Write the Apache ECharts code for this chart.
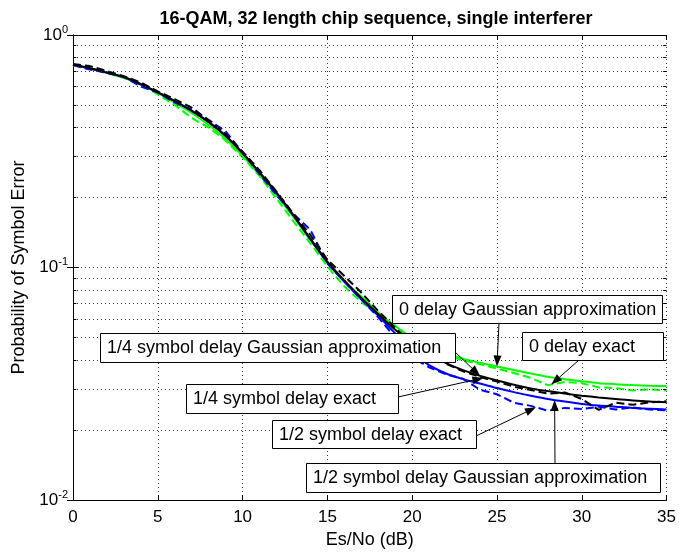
<!DOCTYPE html>
<html>
<head>
<meta charset="utf-8">
<script src="https://cdn.jsdelivr.net/npm/echarts@6/dist/echarts.min.js"></script>
<style>
  html, body { margin: 0; padding: 0; background: #fff; }
  #chart { width: 679px; height: 554px; }
</style>
</head>
<body>
<div id="chart"></div>
<script>
// Es/No grid in dB
const snrDb = [0,1,2,3,4,5,6,7,8,9,10,11,12,13,14,15,16,17,18,19,20,21,22,23,24,25,26,27,28,29,30,31,32,33,34,35];

// Symbol error probability, 0 delay
const gaussZero = [0.745,0.72,0.69,0.655,0.61,0.562,0.512,0.462,0.41,0.357,0.302,0.25,0.205,0.165,0.131,0.105,0.087,0.075,0.064,0.056,0.050,0.0458,0.0428,0.0405,0.0389,0.0375,0.0362,0.0350,0.0339,0.0331,0.0324,0.0318,0.0315,0.0312,0.0310,0.0309];
const exactZero = [0.74,0.722,0.685,0.655,0.612,0.555,0.50,0.44,0.40,0.352,0.298,0.248,0.198,0.158,0.127,0.101,0.083,0.071,0.063,0.056,0.049,0.0452,0.042,0.0398,0.0384,0.0368,0.0352,0.0335,0.0312,0.0322,0.0318,0.0305,0.0303,0.0296,0.0299,0.0296];

// Symbol error probability, 1/4 symbol delay
const gaussQuarter = [0.745,0.72,0.69,0.66,0.615,0.567,0.52,0.472,0.422,0.368,0.31,0.256,0.21,0.168,0.133,0.106,0.088,0.074,0.063,0.054,0.0475,0.0425,0.0388,0.0362,0.0342,0.0327,0.0313,0.0302,0.0294,0.0287,0.0281,0.0276,0.0272,0.0268,0.0265,0.0263];
const exactQuarter = [0.75,0.735,0.70,0.665,0.625,0.572,0.53,0.487,0.43,0.375,0.315,0.262,0.212,0.17,0.138,0.108,0.092,0.078,0.065,0.055,0.047,0.042,0.0385,0.0358,0.0338,0.0323,0.0307,0.0297,0.0287,0.0290,0.0272,0.0244,0.0262,0.0257,0.0263,0.0266];

// Symbol error probability, 1/2 symbol delay
const gaussHalf = [0.745,0.718,0.688,0.658,0.613,0.566,0.52,0.473,0.423,0.369,0.311,0.256,0.209,0.167,0.132,0.105,0.087,0.073,0.062,0.052,0.0435,0.0380,0.0350,0.0331,0.0317,0.0303,0.0291,0.0281,0.0272,0.0265,0.0259,0.0255,0.0252,0.0249,0.0247,0.0245];
const exactHalf = [0.742,0.71,0.688,0.662,0.60,0.565,0.512,0.478,0.432,0.385,0.312,0.252,0.205,0.17,0.145,0.104,0.087,0.073,0.061,0.050,0.041,0.0372,0.0347,0.0332,0.0298,0.0285,0.0262,0.0254,0.0242,0.0249,0.0246,0.0252,0.0245,0.0250,0.0245,0.0243];

// Axis ticks
const xTicks = [0,5,10,15,20,25,30,35];
const yDecades = [0.01, 0.1, 1];
const yMinor = [0.02,0.03,0.04,0.05,0.06,0.07,0.08,0.09,0.2,0.3,0.4,0.5,0.6,0.7,0.8,0.9];

// Callouts: label text, the curve it points to and the Es/No where the arrow lands
const calloutText = ['0 delay Gaussian approximation','0 delay exact','1/4 symbol delay Gaussian approximation','1/4 symbol delay exact','1/2 symbol delay exact','1/2 symbol delay Gaussian approximation'];
const calloutCurve = ['gaussZero','exactZero','gaussQuarter','exactQuarter','exactHalf','gaussHalf'];
const calloutAt = [25.0, 28.2, 24.0, 24.2, 27.3, 28.4];

// ---- presentation ----
const FONT = '"Liberation Sans", Arial, Helvetica, sans-serif';
const curves = {
  gaussZero:    { values: gaussZero,    color: '#00ff00', dashed: false },
  exactZero:    { values: exactZero,    color: '#00ff00', dashed: true },
  gaussQuarter: { values: gaussQuarter, color: '#000000', dashed: false },
  exactQuarter: { values: exactQuarter, color: '#000000', dashed: true },
  gaussHalf:    { values: gaussHalf,    color: '#0000ff', dashed: false },
  exactHalf:    { values: exactHalf,    color: '#0000ff', dashed: true }
};
const drawOrder = ['exactZero','gaussZero','exactHalf','gaussHalf','exactQuarter','gaussQuarter'];

// box [left, top, width, height] and arrow tail, in pixels
const calloutBox = [
  { box: [392, 295, 270, 28], tail: [499, 323] },
  { box: [522, 332, 141, 28], tail: [579, 360] },
  { box: [100, 333, 355, 29], tail: [455, 352] },
  { box: [186, 384, 212, 29], tail: [398, 397] },
  { box: [272, 420, 204, 28], tail: [476, 436] },
  { box: [306, 463, 354, 29], tail: [555, 463] }
];

const GRID = { left: 73, top: 35, width: 596, height: 470 };
const dotted = { color: '#3a3a3a', type: [1, 3], width: 1 };

function pairs(values) { return snrDb.map((x, i) => [x, values[i]]); }

function valueAt(values, x) {
  for (let i = 0; i < snrDb.length - 1; i++) {
    if (x >= snrDb[i] && x <= snrDb[i + 1]) {
      const t = (x - snrDb[i]) / (snrDb[i + 1] - snrDb[i]);
      const a = Math.log10(values[i]), b = Math.log10(values[i + 1]);
      return Math.pow(10, a + t * (b - a));
    }
  }
  return values[values.length - 1];
}

function decadeLabel(v) {
  const e = Math.round(Math.log10(v));
  return '{b|10}{e|' + e + '}';
}

const series = drawOrder.map(key => {
  const c = curves[key];
  return {
    name: key,
    type: 'line',
    data: pairs(c.values),
    showSymbol: false,
    smooth: c.dashed ? false : 0.3,
    clip: true,
    lineStyle: { color: c.color, width: 2, type: c.dashed ? [8, 4] : 'solid' },
    z: 3
  };
});

// minor dotted grid for each decade
series.push({
  type: 'line',
  data: [],
  silent: true,
  markLine: {
    silent: true,
    symbol: 'none',
    label: { show: false },
    animation: false,
    lineStyle: dotted,
    data: yMinor.map(v => ({ yAxis: v }))
  },
  z: 1
});
// minor tick marks on left and right
series.push({
  type: 'line',
  data: [],
  silent: true,
  markLine: {
    silent: true,
    symbol: 'none',
    label: { show: false },
    animation: false,
    lineStyle: { color: '#000', type: 'solid', width: 1 },
    data: yMinor.flatMap(v => [
      [{ coord: [0, v] }, { coord: [0.2, v] }],
      [{ coord: [34.8, v] }, { coord: [35, v] }]
    ])
  },
  z: 2
});

const axisLineStyle = { color: '#000', width: 1 };

const option = {
  animation: false,
  backgroundColor: '#fff',
  title: {
    text: '16-QAM, 32 length chip sequence, single interferer',
    left: GRID.left + GRID.width / 2,
    top: 5,
    textAlign: 'center',
    textStyle: { fontFamily: FONT, fontSize: 18, fontWeight: 'bold', color: '#000' }
  },
  grid: GRID,
  xAxis: [
    {
      type: 'value', min: xTicks[0], max: xTicks[xTicks.length - 1], interval: 5,
      position: 'bottom',
      name: 'Es/No (dB)', nameLocation: 'middle', nameGap: 31,
      nameTextStyle: { fontFamily: FONT, fontSize: 18, color: '#000' },
      axisLine: { show: true, lineStyle: axisLineStyle },
      axisTick: { show: true, inside: true, length: 5, lineStyle: axisLineStyle },
      axisLabel: { fontFamily: FONT, fontSize: 17, color: '#000', margin: 9 },
      splitLine: { show: true, lineStyle: dotted }
    },
    {
      type: 'value', min: xTicks[0], max: xTicks[xTicks.length - 1], interval: 5,
      position: 'top',
      axisLine: { show: true, lineStyle: axisLineStyle },
      axisTick: { show: true, inside: true, length: 5, lineStyle: axisLineStyle },
      axisLabel: { show: false },
      splitLine: { show: false }
    }
  ],
  yAxis: [
    {
      type: 'log', logBase: 10, min: yDecades[0], max: yDecades[yDecades.length - 1],
      position: 'left',
      name: 'Probability of Symbol Error', nameLocation: 'middle', nameGap: 36,
      nameTextStyle: { fontFamily: FONT, fontSize: 18, color: '#000' },
      axisLine: { show: true, lineStyle: axisLineStyle },
      axisTick: { show: true, inside: true, length: 6, lineStyle: axisLineStyle },
      axisLabel: {
        margin: 5,
        formatter: decadeLabel,
        rich: {
          b: { fontFamily: FONT, fontSize: 17, color: '#000' },
          e: { fontFamily: FONT, fontSize: 11, color: '#000', padding: [0, 0, 11, 0] }
        }
      },
      splitLine: { show: true, lineStyle: dotted }
    },
    {
      type: 'log', logBase: 10, min: yDecades[0], max: yDecades[yDecades.length - 1],
      position: 'right',
      axisLine: { show: true, lineStyle: axisLineStyle },
      axisTick: { show: true, inside: true, length: 6, lineStyle: axisLineStyle },
      axisLabel: { show: false },
      splitLine: { show: false }
    }
  ],
  series: series
};

const chart = echarts.init(document.getElementById('chart'), null, { renderer: 'canvas' });
chart.setOption(option);

// callout boxes with arrows onto the curves
function buildCallouts() {
  const els = [];
  calloutText.forEach((text, i) => {
    const lay = calloutBox[i];
    const x = calloutAt[i];
    const tip = chart.convertToPixel({ gridIndex: 0 }, [x, valueAt(curves[calloutCurve[i]].values, x)]);
    const tail = lay.tail;
    const ang = Math.atan2(tip[1] - tail[1], tip[0] - tail[0]);
    const len = 11, hw = 4;
    const bx = tip[0] - len * Math.cos(ang), by = tip[1] - len * Math.sin(ang);
    els.push({
      type: 'line', z: 20, silent: true,
      shape: { x1: tail[0], y1: tail[1], x2: bx, y2: by },
      style: { stroke: '#000', lineWidth: 1 }
    });
    els.push({
      type: 'polygon', z: 20, silent: true,
      shape: { points: [
        [tip[0], tip[1]],
        [bx + hw * Math.sin(ang), by - hw * Math.cos(ang)],
        [bx - hw * Math.sin(ang), by + hw * Math.cos(ang)]
      ] },
      style: { fill: '#000' }
    });
    const [l, t, w, h] = lay.box;
    els.push({
      type: 'rect', z: 21, silent: true,
      shape: { x: l + 0.5, y: t + 0.5, width: w, height: h },
      style: { fill: '#fff', stroke: '#000', lineWidth: 1 }
    });
    els.push({
      type: 'text', z: 22, silent: true,
      x: l + 7, y: t + h / 2 + 1,
      style: {
        text: text,
        font: '18px ' + FONT,
        fill: '#000',
        align: 'left',
        verticalAlign: 'middle'
      }
    });
  });
  chart.setOption({ graphic: els });
}
buildCallouts();
</script>
</body>
</html>
